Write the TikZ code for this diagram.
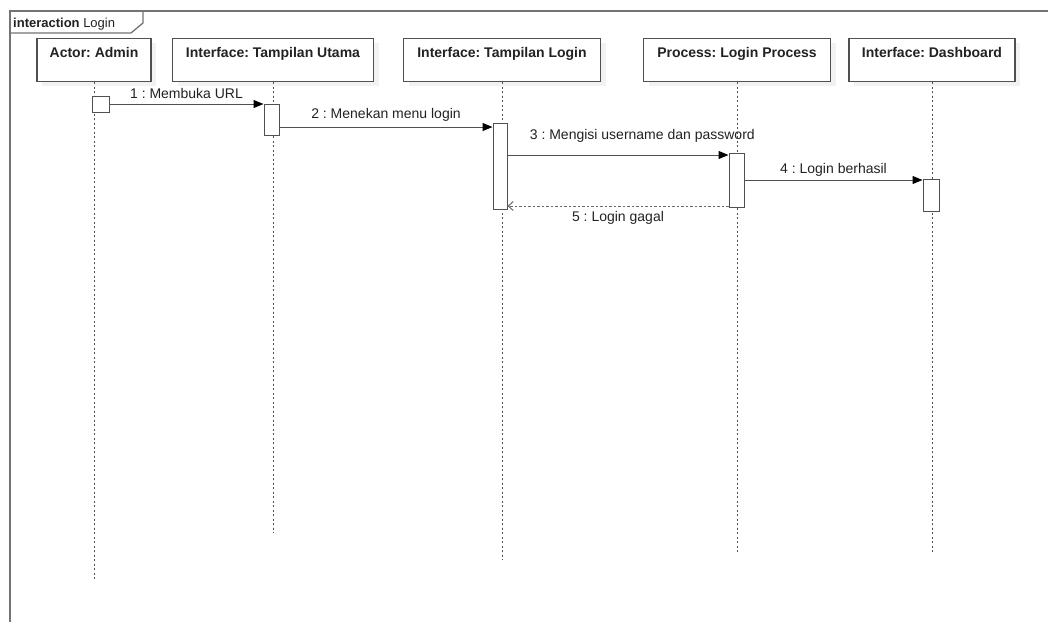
\documentclass[tikz,border=0pt]{standalone}
\usepackage{fontspec}
\setmainfont{Liberation Sans}
\usetikzlibrary{arrows.meta,calc}
\definecolor{linec}{HTML}{505050}
\definecolor{textc}{HTML}{222222}
\tikzset{
  head/.style={draw=linec, line width=1.1pt, fill=white, anchor=north, font=\bfseries\fontsize{14}{16}\selectfont, text=textc,
     text height=10pt, text depth=15pt, inner ysep=9pt, inner xsep=0pt},
  life/.style={draw=linec, line width=1pt, dash pattern=on 2pt off 2.5pt},
  act/.style={draw=linec, line width=1pt, fill=white, inner sep=0pt},
  msg/.style={draw=linec, line width=1pt, -{Triangle[length=10pt,width=8pt,fill=black,color=black]}},
  ret/.style={draw=linec!85, line width=1pt, dash pattern=on 2.5pt off 2pt, -{Straight Barb[length=5pt,width=9pt]}},
  lbl/.style={font=\fontsize{14}{16}\selectfont, text=textc, anchor=base, inner sep=0pt},
  frame/.style={draw=linec!80, line width=1.3pt}
}
\begin{document}
\frenchspacing
\begin{tikzpicture}[x=1pt,y=-1pt]
\useasboundingbox (0,0) rectangle (1048,622);
% frame
\draw[frame] (1048,11) -- (10,11) -- (10,622);
\draw[frame] (10,11) -- (143,11) -- (143,23) -- (131,33) -- (10,33);
\node[anchor=base west, inner sep=0pt, text=textc, font=\fontsize{13}{15}\selectfont] (title) at (13,27.5) {\textbf{interaction} Login};
% head shadows
\foreach \cx/\w in {94/114, 273/201, 502/197, 737/187, 932/166}{
  \fill[gray!10] (\cx-\w/2+5,43) rectangle (\cx+\w/2+5,86);
}
% lifeline heads
\node[head, minimum width=114pt] (h1) at (94,38) {Actor: Admin};
\node[head, minimum width=201pt] (h2) at (273,38) {Interface: Tampilan Utama};
\node[head, minimum width=197pt] (h3) at (502,38) {Interface: Tampilan Login};
\node[head, minimum width=187pt] (h4) at (737,38) {Process: Login Process};
\node[head, minimum width=166pt] (h5) at (932,38) {Interface: Dashboard};
% lifeline ends
\coordinate (e1) at (94,580);
\coordinate (e2) at (273,533);
\coordinate (e3) at (502,560);
\coordinate (e4) at (737,553);
\coordinate (e5) at (932,553);
\draw[life] (h1.south) -- (e1);
\draw[life] (h2.south) -- (e2);
\draw[life] (h3.south) -- (e3);
\draw[life] (h4.south) -- (e4);
\draw[life] (h5.south) -- (e5);
% activations
\node[act, minimum width=17pt, minimum height=16pt] (a1) at (100.5,104) {};
\node[act, minimum width=15pt, minimum height=31pt] (a2) at (271.5,119.5) {};
\node[act, minimum width=14pt, minimum height=86pt] (a3) at (500,166) {};
\node[act, minimum width=15pt, minimum height=54pt] (a4) at (736.5,180) {};
\node[act, minimum width=16pt, minimum height=32pt] (a5) at (931,195) {};
% messages
\draw[msg] (a1.east) -- (a1.east -| a2.west)
  node[lbl, midway, yshift=6pt] (l1) {1 : Membuka URL};
\draw[msg] (a2.east |- 0,127) -- (a3.west |- 0,127)
  node[lbl, midway, yshift=9pt] (l2) {2 : Menekan menu login};
\draw[msg] (a3.east |- 0,155) -- (a4.west |- 0,155)
  node[lbl, pos=0.61, yshift=16pt] (l3) {3 : Mengisi username dan password};
\draw[msg] (a4.east |- 0,180) -- (a5.west |- 0,180)
  node[lbl, midway, yshift=7pt] (l4) {4 : Login berhasil};
\draw[ret] (a4.west |- 0,206) -- (a3.east |- 0,206)
  node[lbl, midway, yshift=-15pt] (l5) {5 : Login gagal};
\end{tikzpicture}
\end{document}
